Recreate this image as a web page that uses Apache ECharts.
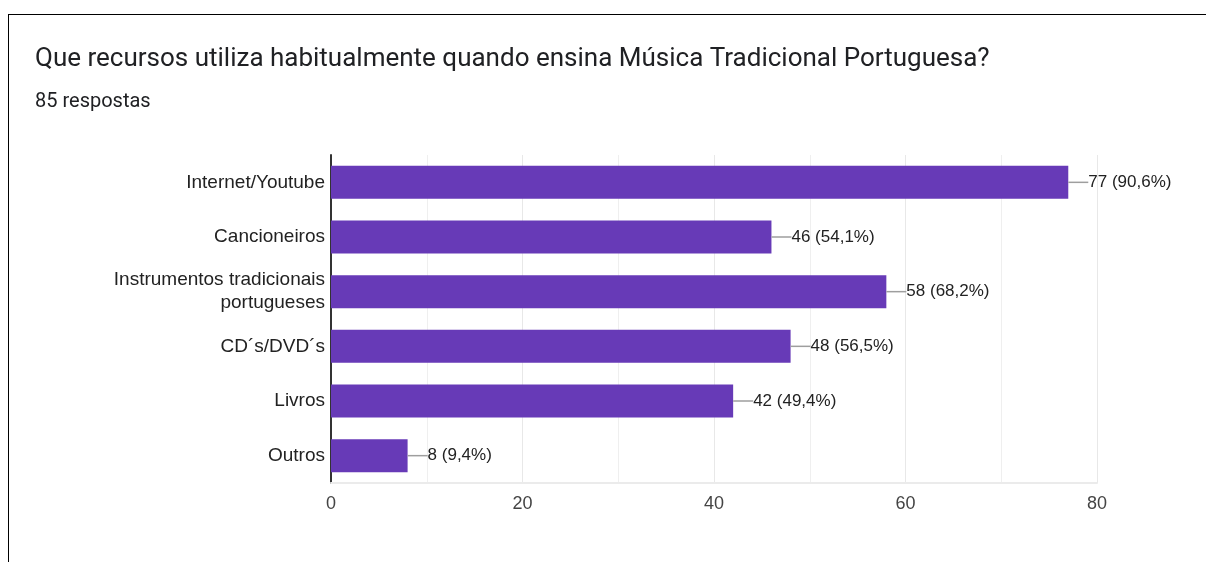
<!DOCTYPE html>
<html style="height: 100%">
<head>
<meta charset="utf-8">
<style>
  body { margin: 0; background: #fff; }
  #frame { position: absolute; left: 8px; top: 14px; right: 0; bottom: 0; border-top: 1px solid #000; border-left: 1px solid #000; }
  #container { position: absolute; left: 0; top: 0; width: 1206px; height: 562px; }
</style>
</head>
<body>
<div id="frame"></div>
<div id="container"></div>
<script src="https://cdn.jsdelivr.net/npm/echarts@6/dist/echarts.min.js"></script>
<script type="text/javascript">
var categories = ['Internet/Youtube', 'Cancioneiros', 'Instrumentos tradicionais\nportugueses', 'CD´s/DVD´s', 'Livros', 'Outros'];
var values = [77, 46, 58, 48, 42, 8];
var percents = ['90,6%', '54,1%', '68,2%', '56,5%', '49,4%', '9,4%'];

var myChart = echarts.init(document.getElementById('container'));

var option = {
    animation: false,
    title: [
        {
            text: 'Que recursos utiliza habitualmente quando ensina Música Tradicional Portuguesa?',
            left: 35, top: 46, padding: 0,
            textStyle: { fontFamily: 'Roboto', fontSize: 26, fontWeight: 'normal', color: '#202124' }
        },
        {
            text: '85 respostas',
            left: 35, top: 92, padding: 0,
            textStyle: { fontFamily: 'Roboto', fontSize: 20, fontWeight: 'normal', color: '#202124' }
        }
    ],
    grid: { left: 331, right: 109, top: 155, bottom: 79 },
    xAxis: {
        type: 'value',
        min: 0, max: 80, interval: 20,
        axisLine: { show: true, lineStyle: { color: '#ebebeb', width: 2 } },
        axisTick: { show: false },
        axisLabel: { fontFamily: 'Liberation Sans', fontSize: 18, color: '#444', margin: 12 },
        splitLine: { lineStyle: { color: '#e8e8e8' } },
        minorTick: { show: false, splitNumber: 2 },
        minorSplitLine: { show: true, lineStyle: { color: '#efefef' } }
    },
    yAxis: {
        type: 'category',
        inverse: true,
        data: categories,
        axisLine: { lineStyle: { color: '#333', width: 2 } },
        axisTick: { show: false },
        axisLabel: { fontFamily: 'Liberation Sans', fontSize: 19, color: '#222', margin: 6, lineHeight: 23, align: 'right' }
    },
    series: [{
        type: 'bar',
        data: values,
        barWidth: 33,
        itemStyle: { color: '#673ab7' },
        label: {
            show: true,
            position: 'right',
            distance: 0,
            formatter: function (p) {
                return '{l|}{v|' + p.value + ' (' + percents[p.dataIndex] + ')}';
            },
            rich: {
                l: { width: 20, height: 1.5, backgroundColor: '#9e9e9e' },
                v: { fontFamily: 'Liberation Sans', fontSize: 17, color: '#222' }
            }
        }
    }]
};

myChart.setOption(option);
</script>
</body>
</html>
